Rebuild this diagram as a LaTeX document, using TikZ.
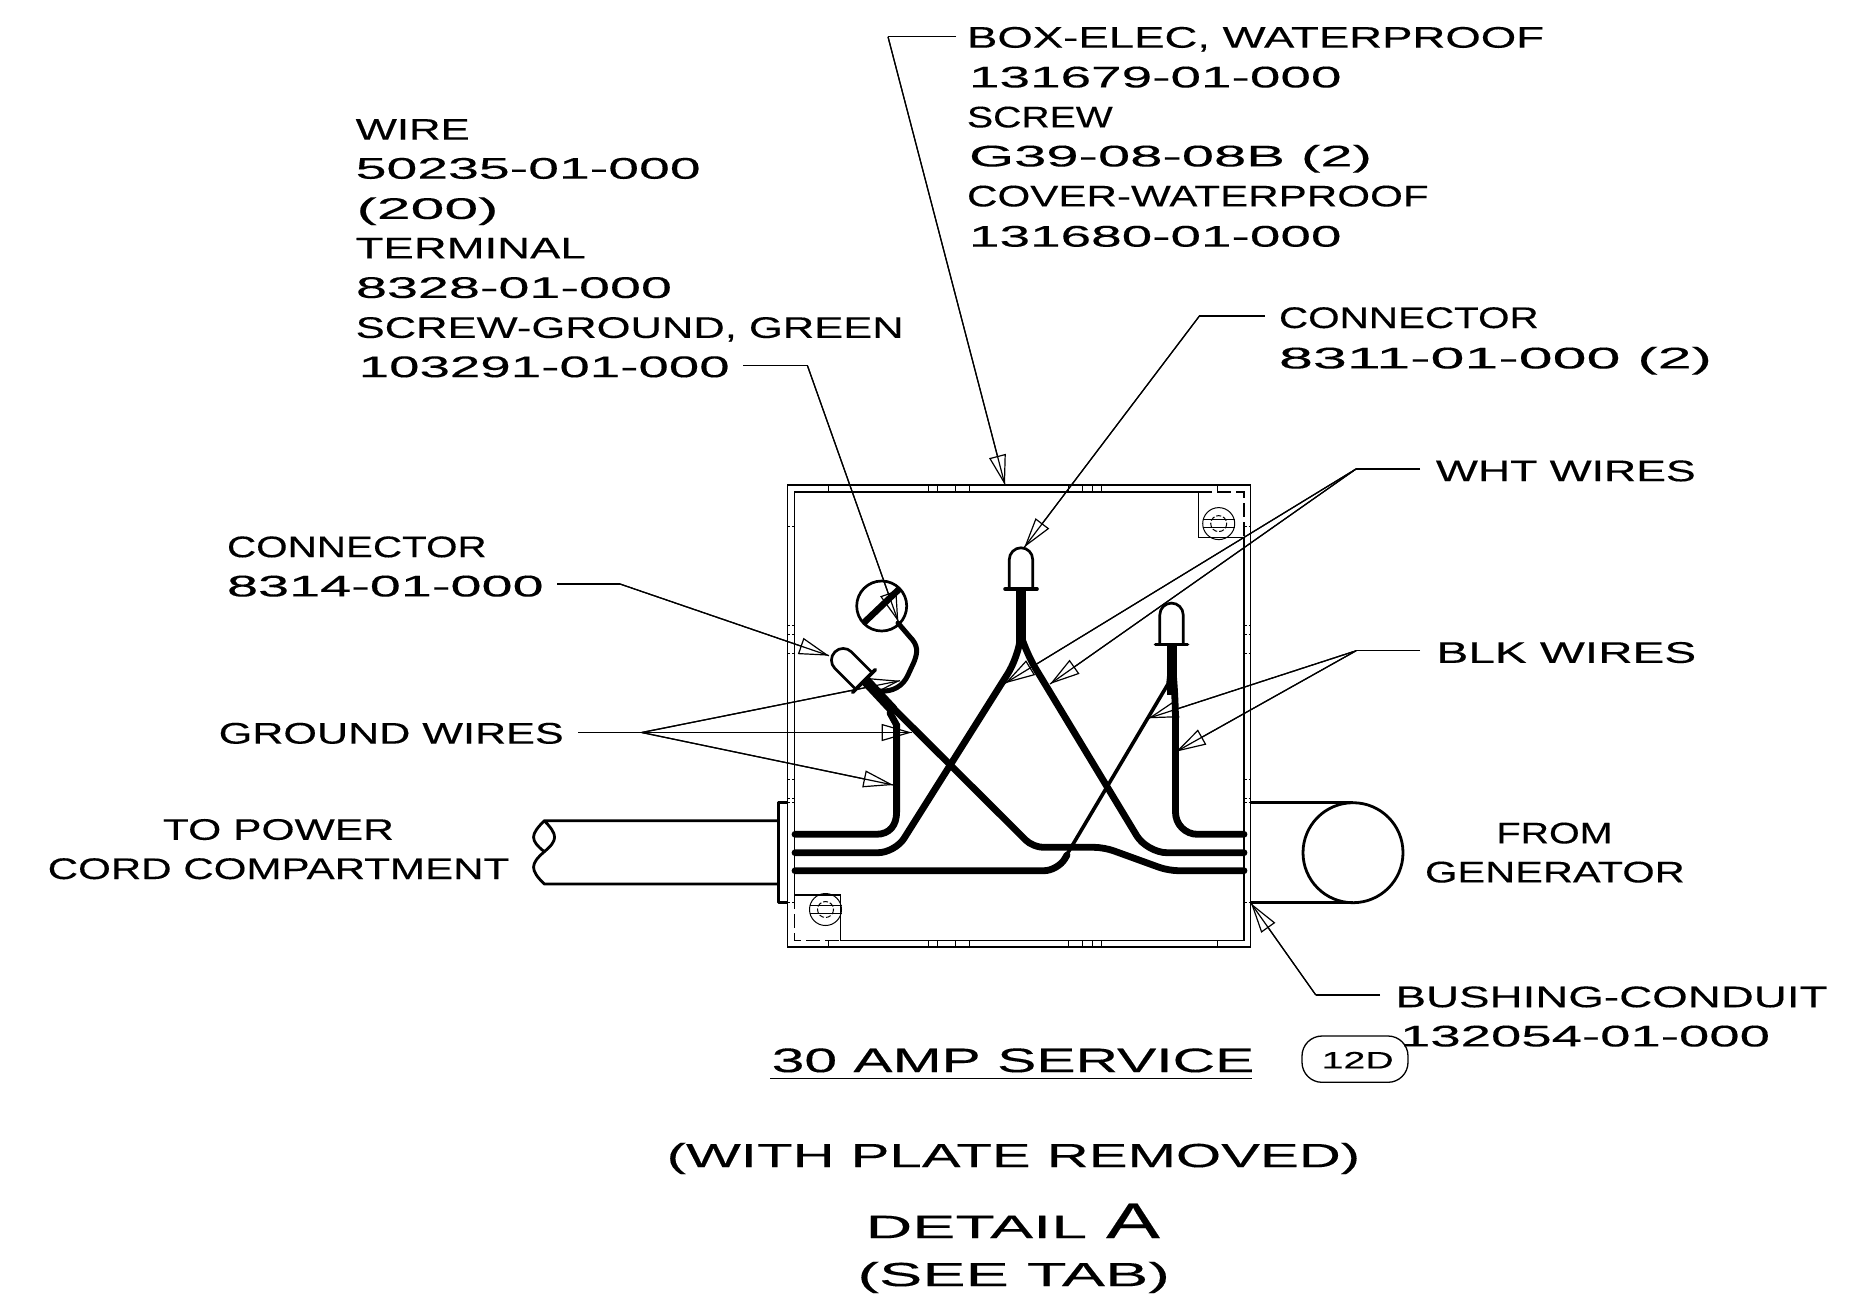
\documentclass[tikz,border=0pt]{standalone}
\usepackage{graphicx}
\usepackage{fontspec}
\setmainfont[FakeBold=0.25]{Liberation Sans}
\usetikzlibrary{arrows.meta}
\newcommand{\lbl}[6]{\node[txt] (#1) at (#2-1,#3+0.4) {\fontsize{#5}{#5}\selectfont\resizebox{\dimexpr#4pt+2pt\relax}{\height}{#6}};}
\newcommand{\capnut}{%
  \draw[capline] (-11.7,0) -- (-11.7,-29.5) arc[start angle=180,end angle=360,radius=11.7] -- (11.7,0);
  \draw[capline,line width=3.6pt,line cap=round] (-16,0) -- (16,0);}
\newcommand{\screwhead}{%
  \draw[fineline] (0,0) circle[radius=16];
  \draw[fineline,dash pattern=on 5pt off 2pt] (0,0) circle[radius=8];
  \draw[fineline] (-16,-3.8) -- (16,-3.8) (-16,3.8) -- (16,3.8);}
\tikzset{
  x=1pt,y=-1pt,
  txt/.style={inner sep=0pt,outer sep=0pt,anchor=base west},
  leader/.style={draw=black,line width=1.2pt,-{Triangle[open,fill=none,length=30pt,width=17pt]},postaction={draw,-}},
  plainlead/.style={draw=black,line width=1.2pt},
  wall/.style={draw=black,line width=1.3pt},
  wire/.style={draw=black,line width=6.8pt,line cap=round},
  thickwire/.style={draw=black,line width=10.5pt},
  capline/.style={draw=black,line width=2.7pt},
  fineline/.style={draw=black,line width=1pt},
  tube/.style={draw=black,line width=2.8pt,line join=round},
}
\begin{document}
\begin{tikzpicture}
\useasboundingbox (0,0) rectangle (1862,1310);
% box walls
\draw[wall] (787.7,485) rectangle (1250.7,947);
\draw[wall] (794.7,492) -- (1198.3,492) -- (1198.3,537.3) -- (1244,537.3) -- (1244,940.7) -- (840.4,940.7) -- (840.4,895) -- (794.7,895) -- cycle;
\draw[wall,dash pattern=on 14pt off 5pt] (1198.3,492) -- (1244,492) -- (1244,537.3);
\draw[wall,dash pattern=on 14pt off 5pt] (794.7,895) -- (794.7,940.7) -- (840.4,940.7);
\foreach \tx in {828.5,928.5,937.5,955.6,969.2,1068.6,1082.5,1092.6,1101,1217.7}{
  \draw[fineline] (\tx,485) -- (\tx,492);
  \draw[fineline] (\tx,940.7) -- (\tx,947);
}
\foreach \ty in {526,625.7,634.7,653.3,779.3,798.3,802.3,902.5}{
  \draw[fineline,dash pattern=on 2.5pt off 2pt] (787.7,\ty) -- (794.7,\ty);
  \draw[fineline,dash pattern=on 2.5pt off 2pt] (1244,\ty) -- (1250.7,\ty);
}
% corner screws
\begin{scope}[shift={(1218.7,523.6)}]\screwhead\end{scope}
\begin{scope}[shift={(825.5,909.5)}]\screwhead\end{scope}
% ground screw
\draw[capline] (881.7,606) circle[radius=25];
\draw[draw=black,line width=6.5pt] (863.3,623.3) -- (900,588.3);
\draw[draw=black,line width=5pt,line cap=round] (898,623) -- (910,637) .. controls (918,645) and (918,652) .. (914,662) -- (908,675) .. controls (903,686) and (893,692) .. (880,691) -- (868,686);
% connectors
\begin{scope}[shift={(1021,589)}]\capnut\end{scope}
\begin{scope}[shift={(1171.5,644.3)}]\capnut\end{scope}
\begin{scope}[shift={(864,681)},rotate=45]\capnut\end{scope}
% wires
\draw[thickwire] (1021,588) -- (1021,645);
\draw[thickwire] (1171.8,645) -- (1171.8,695);
\draw[thickwire] (865,680) -- (893,710);
\draw[wire,rounded corners=17pt] (795,852.7) -- (895,852.7) -- (1017,659) -- (1020,640);
\draw[wire,rounded corners=20pt] (1022,640) -- (1025,651) -- (1147,852.7) -- (1244,852.7);
\draw[wire,rounded corners=10pt] (867,682) -- (1033,847.3) -- (1104,847.3) -- (1168.5,870.7) -- (1244,870.7);
\draw[wire,rounded corners=14pt] (795,870.7) -- (1058,870.7) -- (1067,855);
\draw[draw=black,line width=3.6pt] (1066,856) -- (1168,684) -- (1171,655);
\draw[wire,rounded corners=22pt] (1244,834.3) -- (1175.5,834.3) -- (1175.5,700) -- (1172,660);
\draw[wire] (795,834.3) -- (876,834.3) .. controls (890,834.3) and (896.6,825) .. (896.6,812) -- (896.6,725) -- (890,713);
% left cable
\draw[tube] (788.3,802.3) -- (778.3,802.3) -- (778.3,902.3) -- (788.3,902.3);
\draw[tube] (778.3,820.7) -- (544.3,820.7) .. controls (530,835) and (530,840) .. (544.3,851.7) .. controls (558,840) and (558,835) .. (544.3,820.7);
\draw[tube] (544.3,851.7) .. controls (530,864) and (530,870) .. (544.3,884) -- (778.3,884);
% right conduit
\draw[tube] (1250.6,802.5) -- (1353,802.5);
\draw[tube] (1250.6,902.8) -- (1353,902.8);
\draw[tube] (1353,852.7) circle[radius=50];
% text
\lbl{t1}{356.7}{139.3}{112}{29.8}{WIRE}
\lbl{t2}{356.7}{178.3}{343}{29.8}{50235-01-000}
\lbl{t3}{357.5}{218.5}{140}{29.8}{(200)}
\lbl{t4}{356.7}{258}{228}{29.8}{TERMINAL}
\lbl{t5}{357}{297.5}{314}{29.8}{8328-01-000}
\lbl{t6}{356.7}{337.5}{546}{29.8}{SCREW-GROUND, GREEN}
\lbl{t7}{359.7}{376.7}{369}{29.8}{103291-01-000}
\lbl{b1}{968}{47.3}{575}{29.8}{BOX-ELEC, WATERPROOF}
\lbl{b2}{970}{87}{370.5}{29.8}{131679-01-000}
\lbl{b3}{968}{127}{143.7}{29.8}{SCREW}
\lbl{b4}{970}{166}{401}{29.8}{G39-08-08B (2)}
\lbl{b5}{968}{206}{459.6}{29.8}{COVER-WATERPROOF}
\lbl{b6}{970}{246.2}{370.5}{29.8}{131680-01-000}
\lbl{c1}{1280}{327.6}{257.7}{29.8}{CONNECTOR}
\lbl{c2}{1280}{368}{431}{29.8}{8311-01-000 (2)}
\lbl{w1}{1436.9}{480.8}{257.7}{29.8}{WHT WIRES}
\lbl{w2}{1437.5}{662.4}{257.7}{29.8}{BLK WIRES}
\lbl{d1}{228}{556.8}{257.7}{29.8}{CONNECTOR}
\lbl{d2}{228}{596}{314.7}{29.8}{8314-01-000}
\lbl{g1}{219.7}{743.2}{343}{29.8}{GROUND WIRES}
\lbl{p1}{163.9}{839.4}{229}{29.8}{TO POWER}
\lbl{p2}{48.7}{878.6}{459.6}{29.8}{CORD COMPARTMENT}
\lbl{f1}{1497.5}{843}{114}{29.8}{FROM}
\lbl{f2}{1426}{882}{257.7}{29.8}{GENERATOR}
\lbl{u1}{1396.5}{1006.8}{430}{29.8}{BUSHING-CONDUIT}
\lbl{u2}{1401}{1046}{368}{29.8}{132054-01-000}
\lbl{s1}{772.7}{1071.7}{480.6}{34}{30 AMP SERVICE}
\draw[draw=black,line width=1.6pt] (770,1078.5) -- (1252,1078.5);
\draw[draw=black,line width=1.3pt,rounded corners=20pt] (1302,1036) rectangle (1408,1082.3);
\lbl{s2}{1322.7}{1068}{70}{23.7}{12D}
\lbl{s3}{667.6}{1166.7}{691.5}{33.5}{(WITH PLATE REMOVED)}
\lbl{s4}{866.6}{1237.7}{219.5}{32.5}{DETAIL}
\lbl{s5}{1107}{1237.7}{52}{50}{A}
\lbl{s6}{858.4}{1285.7}{310.5}{33.5}{(SEE TAB)}
% leader coordinates
\coordinate (boxA) at (956,36.8); \coordinate (boxB) at (888,36.8); \coordinate (boxT) at (1005,485);
\coordinate (scA) at (743.4,365.8); \coordinate (scB) at (807.5,365.8); \coordinate (scT) at (898.3,621.7);
\coordinate (conA) at (1264.7,316); \coordinate (conB) at (1199.4,316); \coordinate (conT) at (1024.3,547.3);
\coordinate (whtA) at (1420,469); \coordinate (whtB) at (1356,469); \coordinate (whtT) at (1005,683.3); \coordinate (whtU) at (1050,684);
\coordinate (blkA) at (1420,650.8); \coordinate (blkB) at (1356,650.8); \coordinate (blkT) at (1148.3,718.3); \coordinate (blkU) at (1176,751.7);
\coordinate (cA) at (557,584); \coordinate (cB) at (620,584); \coordinate (cT) at (829,655.7);
\coordinate (gA) at (578,732.5); \coordinate (gB) at (641.7,732.5); \coordinate (gT) at (900,680.7); \coordinate (gU) at (911.7,732.5); \coordinate (gV) at (893.3,785);
\coordinate (bA) at (1380,995); \coordinate (bB) at (1315.8,995); \coordinate (bT) at (1251,903.3);
% leaders
\draw[plainlead] (boxA) -- (boxB); \draw[leader] (boxB) -- (boxT);
\draw[plainlead] (scA) -- (scB); \draw[leader] (scB) -- (scT);
\draw[plainlead] (conA) -- (conB); \draw[leader] (conB) -- (conT);
\draw[plainlead] (whtA) -- (whtB); \draw[leader] (whtB) -- (whtT); \draw[leader] (whtB) -- (whtU);
\draw[plainlead] (blkA) -- (blkB); \draw[leader] (blkB) -- (blkT); \draw[leader] (blkB) -- (blkU);
\draw[plainlead] (cA) -- (cB); \draw[leader] (cB) -- (cT);
\draw[plainlead] (gA) -- (gB); \draw[leader] (gB) -- (gT); \draw[leader] (gB) -- (gU); \draw[leader] (gB) -- (gV);
\draw[plainlead] (bA) -- (bB); \draw[leader] (bB) -- (bT);
\end{tikzpicture}
\end{document}
